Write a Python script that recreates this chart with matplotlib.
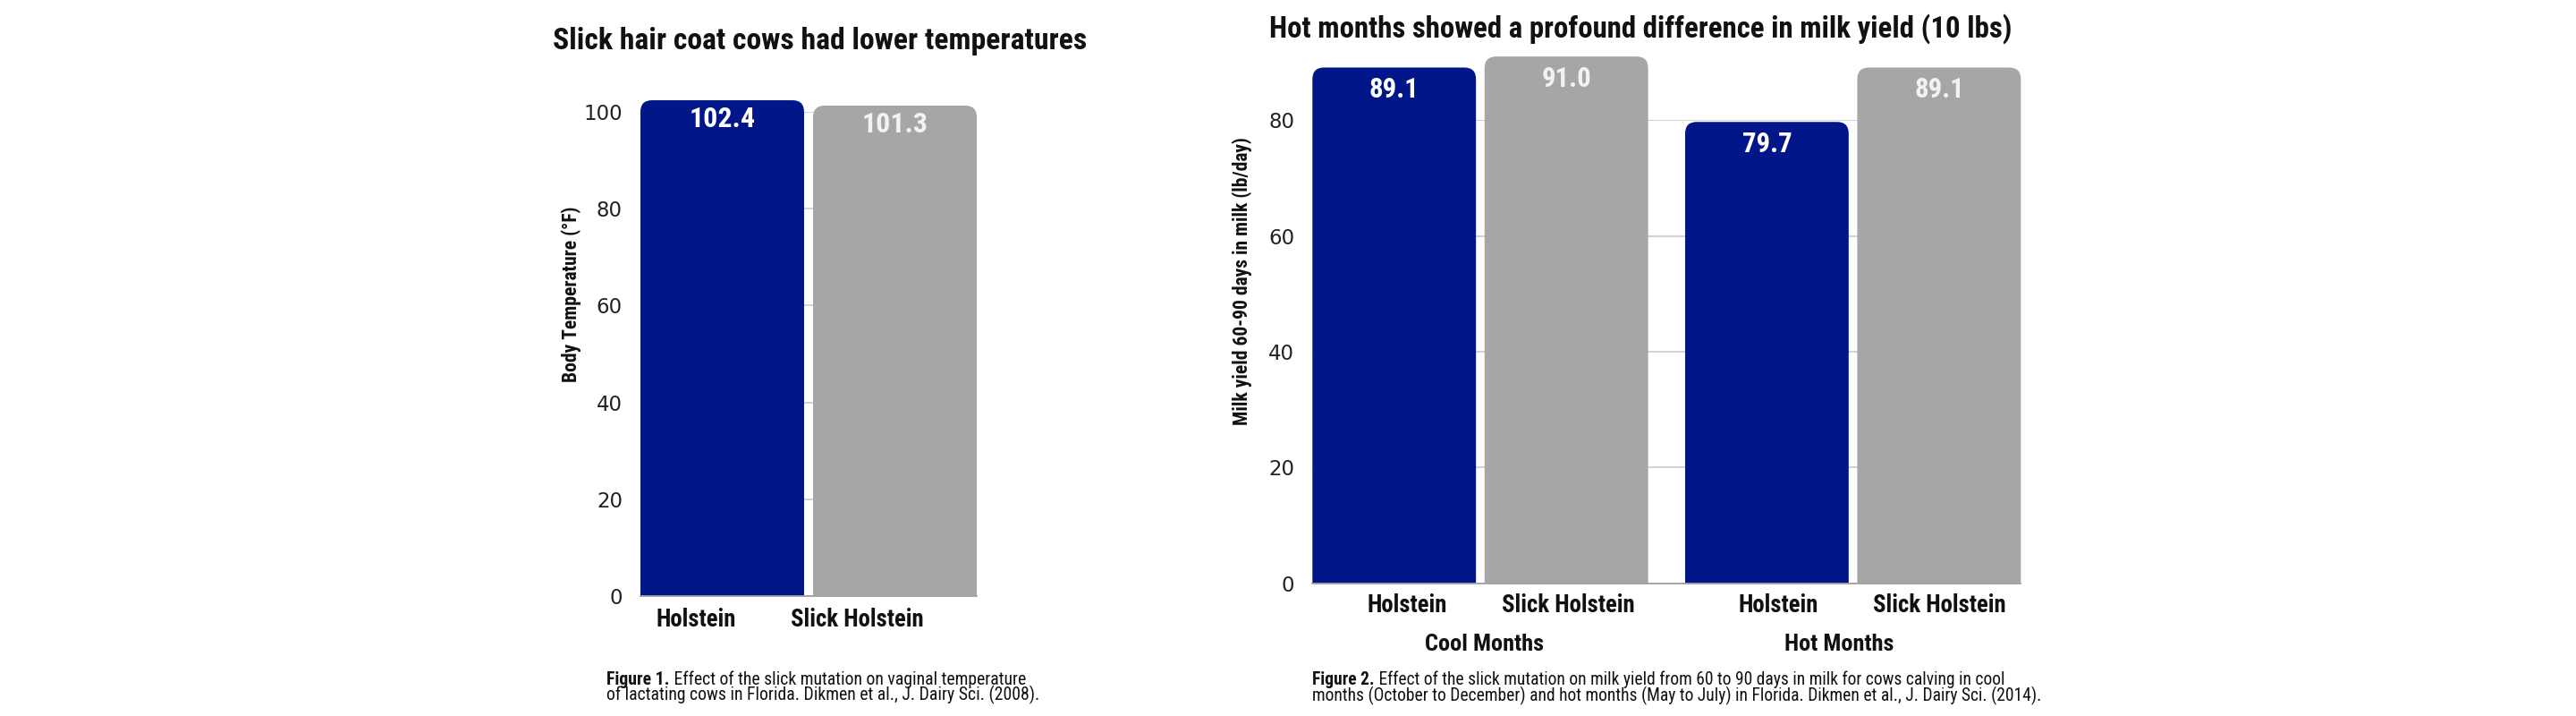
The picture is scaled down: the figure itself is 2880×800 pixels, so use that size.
import numpy as np
import matplotlib
matplotlib.use("Agg")
import matplotlib.pyplot as plt
from matplotlib import font_manager as fm
from matplotlib.path import Path
from matplotlib.patches import PathPatch
import matplotlib.transforms as mtransforms

# ---------------- data ----------------
fig1_title = "Slick hair coat cows had lower temperatures"
fig1_categories = ["Holstein", "Slick Holstein"]
fig1_values = [102.4, 101.3]
fig1_yticks = [0, 20, 40, 60, 80, 100]
fig1_ylabel = "Body Temperature (°F)"
fig1_caption_bold = "Figure 1."
fig1_caption_lines = ["Effect of the slick mutation on vaginal temperature",
                      "of lactating cows in Florida. Dikmen et al., J. Dairy Sci. (2008)."]

fig2_title = "Hot months showed a profound difference in milk yield (10 lbs)"
fig2_groups = ["Cool Months", "Hot Months"]
fig2_categories = ["Holstein", "Slick Holstein", "Holstein", "Slick Holstein"]
fig2_values = [89.1, 91.0, 79.7, 89.1]
fig2_yticks = [0, 20, 40, 60, 80]
fig2_ylabel = "Milk yield 60-90 days in milk (lb/day)"
fig2_caption_bold = "Figure 2."
fig2_caption_lines = ["Effect of the slick mutation on milk yield from 60 to 90 days in milk for cows calving in cool",
                      "months (October to December) and hot months (May to July) in Florida. Dikmen et al., J. Dairy Sci. (2014)."]

NAVY = "#011689"
GRAY = "#A6A6A6"
cat_colors = {"Holstein": NAVY, "Slick Holstein": GRAY}
lab_colors = {"Holstein": "#ffffff", "Slick Holstein": "#f2f2f2"}

# ---------------- fonts ----------------
names = {f.name for f in fm.fontManager.ttflist}
COND_FAMILY, COND_STRETCH = None, "normal"
for cand in ["Liberation Sans Narrow", "Roboto Condensed", "Open Sans Condensed",
             "Noto Sans Condensed", "DejaVu Sans Condensed"]:
    if cand in names:
        COND_FAMILY = cand
        break
if COND_FAMILY is None:
    if any(f.name == "DejaVu Sans" and f.stretch == "condensed" for f in fm.fontManager.ttflist):
        COND_FAMILY, COND_STRETCH = "DejaVu Sans", "condensed"
    else:
        COND_FAMILY = "Liberation Sans"


def FP(bold, size):
    return fm.FontProperties(family=COND_FAMILY, stretch=COND_STRETCH,
                             weight="bold" if bold else "normal", size=size)


W, H = 2880, 800
fig = plt.figure(figsize=(W / 100, H / 100), dpi=100)
renderer = fig.canvas.get_renderer()
PT = 0.72  # points per pixel


def fx(px):
    return px / W


def fy(py):
    return 1 - py / H


def width_px(s, fp):
    t = fig.text(0, 0, s, fontproperties=fp)
    w = t.get_window_extent(renderer).width
    t.remove()
    return w


def fit(s, bold, target_px, max_pt, blend=0.0):
    w = width_px(s, FP(bold, 20))
    wfit = 20 * target_px / w
    size = wfit ** (1 - blend) * max_pt ** blend
    return min(size, max_pt)


def rounded_bars(ax, rects, colors, r_px=13):
    inv = ax.transData.inverted()
    p0 = inv.transform((0, 0))
    p1 = inv.transform((r_px, r_px))
    rx, ry = abs(p1[0] - p0[0]), abs(p1[1] - p0[1])
    for rect, c in zip(rects, colors):
        x0 = rect.get_x()
        x1 = x0 + rect.get_width()
        h = rect.get_height()
        verts = [(x0, 0), (x0, h - ry), (x0, h), (x0 + rx, h), (x1 - rx, h),
                 (x1, h), (x1, h - ry), (x1, 0), (x0, 0)]
        codes = [Path.MOVETO, Path.LINETO, Path.CURVE3, Path.CURVE3, Path.LINETO,
                 Path.CURVE3, Path.CURVE3, Path.LINETO, Path.CLOSEPOLY]
        ax.add_patch(PathPatch(Path(verts, codes), facecolor=c, edgecolor="none",
                               clip_on=False, zorder=2))
        rect.set_visible(False)


def style_axes(ax, yticks):
    for s in ["top", "right", "left"]:
        ax.spines[s].set_visible(False)
    ax.spines["bottom"].set_color("#a0a0a0")
    ax.spines["bottom"].set_linewidth(1.3)
    ax.spines["bottom"].set_zorder(3)
    ax.set_yticks(yticks)
    ax.set_yticklabels([str(v) for v in yticks], fontfamily="DejaVu Sans",
                       fontsize=16.5, color="#222222")
    ax.tick_params(axis="y", length=0, pad=20 * PT)
    ax.tick_params(axis="x", length=0)
    ax.yaxis.grid(True, color="#d2d2d2", linewidth=1.4)
    ax.set_axisbelow(True)


def caption(left_px, base1_px, base2_px, bold, lines, target_px):
    wb = width_px(bold, FP(True, 20))
    wr = width_px(" " + lines[0], FP(False, 20))
    wfit = 20 * target_px / (wb + wr)
    size = min(wfit ** 0.75 * 16.5 ** 0.25, 16.5)
    fig.text(fx(left_px), fy(base1_px), bold, fontproperties=FP(True, size),
             va="baseline", ha="left", color="#111111")
    wb_s = width_px(bold, FP(True, size))
    fig.text(fx(left_px + wb_s), fy(base1_px), " " + lines[0], fontproperties=FP(False, size),
             va="baseline", ha="left", color="#111111")
    fig.text(fx(left_px), fy(base2_px), lines[1], fontproperties=FP(False, size),
             va="baseline", ha="left", color="#111111")


# ================= Chart 1 =================
ax1 = fig.add_axes([fx(716), fy(666), 376 / W, (666 - 125) / H])
ax1.set_xlim(-0.474, 1.474)
ax1.set_ylim(0, 100)
style_axes(ax1, fig1_yticks)
pos1 = np.arange(len(fig1_categories))
bars1 = ax1.bar(pos1, fig1_values, width=0.948)
rounded_bars(ax1, bars1, [cat_colors[c] for c in fig1_categories])

vsize1 = fit("102.4", True, 69.6, 26.7, blend=0.3)
for x, v, c in zip(pos1, fig1_values, fig1_categories):
    ax1.annotate(f"{v:.1f}", xy=(x, v), xytext=(0, -5.6 * PT), textcoords="offset points",
                 ha="center", va="top", color=lab_colors[c], fontproperties=FP(True, vsize1),
                 annotation_clip=False, zorder=4)

csize = fit("Slick Holstein", True, 149, 20.5)
label_shift1 = np.array([-0.154, -0.221])
ax1.set_xticks(pos1 + label_shift1)
ax1.set_xticklabels(fig1_categories, fontproperties=FP(True, csize), color="#111111")
ax1.tick_params(axis="x", pad=12.5 * PT)

ysize1 = fit(fig1_ylabel, True, 201, 15.5, blend=0.3)
ax1.set_ylabel(fig1_ylabel, fontproperties=FP(True, ysize1), va="center", color="#111111")
ax1.yaxis.set_label_coords((638.5 - 716) / 376, (666 - 328.5) / 541)

tsize1 = fit(fig1_title, True, 593, 25.7)
fig.text(fx(618), fy(55), fig1_title, fontproperties=FP(True, tsize1),
         ha="left", va="baseline", color="#111111")

caption(678.3, 765, 782.5, fig1_caption_bold, fig1_caption_lines, 445)

# ================= Chart 2 =================
ax2 = fig.add_axes([fx(1467.3), fy(651.7), 792 / W, (651.7 - 134.3) / H])
ax2.set_xlim(-0.475, 3.64)
ax2.set_ylim(0, 80)
style_axes(ax2, fig2_yticks)
group_gap = 0.165
pos2 = np.array([0, 1, 2 + group_gap, 3 + group_gap])
bars2 = ax2.bar(pos2, fig2_values, width=0.95)
rounded_bars(ax2, bars2, [cat_colors[c] for c in fig2_categories])

vsize2 = fit("89.1", True, 52, 26, blend=0.3)
for x, v, c in zip(pos2, fig2_values, fig2_categories):
    ax2.annotate(f"{v:.1f}", xy=(x, v), xytext=(0, -10 * PT), textcoords="offset points",
                 ha="center", va="top", color=lab_colors[c], fontproperties=FP(True, vsize2),
                 annotation_clip=False, zorder=4)

label_shift2 = np.array([0.077, 0.013, 0.066, 0.002])
ax2.set_xticks(pos2 + label_shift2)
ax2.set_xticklabels(fig2_categories, fontproperties=FP(True, csize), color="#111111")
ax2.tick_params(axis="x", pad=11.6 * PT)

gsize = fit("Cool Months", True, 133.4, 21.5)
group_x = np.array([0.526, 2.587])
blend = mtransforms.blended_transform_factory(ax2.transData, fig.transFigure)
for gx, g in zip(group_x, fig2_groups):
    ax2.text(gx, fy(726.7), g, transform=blend, ha="center", va="baseline",
             fontproperties=FP(True, gsize), color="#111111")

ysize2 = fit(fig2_ylabel, True, 326, 15.5, blend=0.3)
ax2.set_ylabel(fig2_ylabel, fontproperties=FP(True, ysize2), va="center", color="#111111")
ax2.yaxis.set_label_coords((1388.3 - 1467.3) / 792, (651.7 - 314.5) / 517.4)

tsize2 = fit(fig2_title, True, 829.5, 25.7)
fig.text(fx(1418.8), fy(41.7), fig2_title, fontproperties=FP(True, tsize2),
         ha="left", va="baseline", color="#111111")

caption(1467.3, 765, 783.5, fig2_caption_bold, fig2_caption_lines, 734)

fig.savefig("out.png", dpi=100, facecolor="white")
